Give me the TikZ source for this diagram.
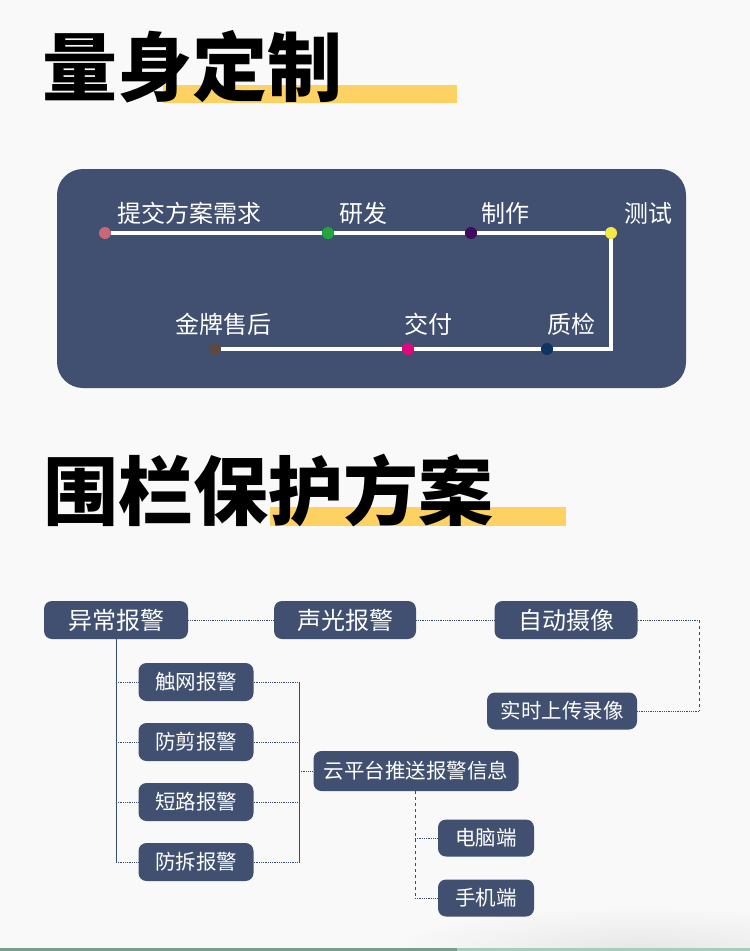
\documentclass[tikz,border=0pt]{standalone}
\usepackage{fontspec}
\newfontfamily\cjk{Noto Sans CJK SC}
\usepackage{xcolor}
\usetikzlibrary{positioning,calc}

\definecolor{pagebg}{RGB}{249,249,250}
\definecolor{navy}{RGB}{65,80,112}
\definecolor{linecol}{RGB}{60,74,107}
\definecolor{barcol}{RGB}{253,210,99}
\definecolor{dotA}{RGB}{200,104,119}
\definecolor{dotB}{RGB}{34,168,57}
\definecolor{dotC}{RGB}{63,11,90}
\definecolor{dotD}{RGB}{247,232,74}
\definecolor{dotE}{RGB}{90,74,66}
\definecolor{dotF}{RGB}{224,8,124}
\definecolor{dotG}{RGB}{13,52,99}
\definecolor{greenL}{RGB}{122,156,140}
\definecolor{greenR}{RGB}{169,203,187}

\begin{document}
\begin{tikzpicture}[x=1pt,y=-1pt,
	title/.style={anchor=west, inner sep=0pt, font=\cjk\bfseries\fontsize{75}{75}\selectfont},
	station/.style={circle, fill=#1, minimum size=12pt, inner sep=0pt},
	plabel/.style={anchor=west, inner sep=0pt, text=white, font=\cjk\fontsize{24}{24}\selectfont},
	box/.style={rectangle, rounded corners=8pt, fill=navy, text=white, inner sep=0pt, minimum height=38pt, font=\cjk\fontsize{20.5}{20}\selectfont},
	bigbox/.style={box, minimum width=143pt, font=\cjk\fontsize{24}{24}\selectfont},
	dotline/.style={draw=linecol, line width=0.8pt, densely dotted},
	dashline/.style={draw=linecol, line width=0.8pt, dashed},
	trunk/.style={draw=linecol, line width=0.8pt}]

	\fill[pagebg] (0,0) rectangle (750,951);
	\useasboundingbox (0,0) rectangle (750,951);
	\shade[inner color=black!7!pagebg, outer color=pagebg] (640,948) ellipse (250 and 42);
	\fill[greenL] (0,948) rectangle (457,951);
	\fill[greenR] (457,948) rectangle (750,951);

	% titles
	\fill[barcol] (163,85) rectangle (457,103);
	\node[title] (title1) at (42,67) {量身定制};
	\fill[barcol] (270,507) rectangle (566,526);
	\node[title] (title2) at (43,491) {围栏保护方案};

	% process panel
	\fill[navy, rounded corners=26pt] (57,169) rectangle (686,388);
	\node[station=dotA] (s1) at (105,233) {};
	\node[station=dotB] (s2) at (328,233) {};
	\node[station=dotC] (s3) at (471,233) {};
	\node[station=dotD] (s4) at (611,233) {};
	\node[station=dotG] (s5) at (547,349) {};
	\node[station=dotF] (s6) at (408,349) {};
	\node[station=dotE] (s7) at (215,349) {};
	\draw[white, line width=3.2pt] (s1) -- (s2) -- (s3) -- (s4) |- (s5) -- (s6) -- (s7);
	\node[plabel] (l1) at (117,213) {提交方案需求};
	\node[plabel] (l2) at (339,213) {研发};
	\node[plabel] (l3) at (481,213) {制作};
	\node[plabel] (l4) at (624,213) {测试};
	\node[plabel] (l5) at (547,324) {质检};
	\node[plabel] (l6) at (404,324) {交付};
	\node[plabel] (l7) at (175,324) {金牌售后};

	% fence plan
	\node[bigbox, minimum width=144pt] (alarm) at (116,620) {异常报警};
	\node[bigbox, minimum width=142pt] (sound) at (345,620) {声光报警};
	\node[bigbox] (camera) at (566,620) {自动摄像};
	\node[box, minimum width=150pt, minimum height=37pt] (record) at (562,711) {实时上传录像};
	\node[box, minimum width=115pt] (touch) at (196,682) {触网报警};
	\node[box, minimum width=115pt] (cut) at (196,742) {防剪报警};
	\node[box, minimum width=115pt] (short) at (196,802) {短路报警};
	\node[box, minimum width=115pt] (tamper) at (196,862) {防拆报警};
	\node[box, minimum width=205pt, minimum height=40pt] (cloud) at (416,771) {云平台推送报警信息};
	\node[box, minimum width=96pt, minimum height=37pt] (pc) at (486,838) {电脑端};
	\node[box, minimum width=96pt, minimum height=37pt] (phone) at (486,898) {手机端};

	\coordinate (camcorner) at (699,620);
	\coordinate (reccorner) at (699,711);
	\coordinate (bus) at (299,700);
	\coordinate (drop) at (415,800);

	\draw[dotline] (alarm) -- (sound);
	\draw[dotline] (sound) -- (camera);
	\draw[dotline] (camera) -- (camcorner);
	\draw[dashline] (camcorner) -- (reccorner);
	\draw[dotline] (reccorner) -- (record);

	\draw[trunk] (alarm) -- (alarm |- tamper);
	\foreach \n in {touch,cut,short,tamper} {
		\draw[dotline] (alarm |- \n) -- (\n);
		\draw[dotline] (\n) -- (\n -| bus);
	}
	\draw[trunk] (touch -| bus) -- (tamper -| bus);
	\draw[dotline] (cloud -| bus) -- (cloud);

	\draw[dashline] (cloud.south -| drop) -- (phone -| drop);
	\draw[dotline] (pc -| drop) -- (pc);
	\draw[dotline] (phone -| drop) -- (phone);
\end{tikzpicture}
\end{document}
